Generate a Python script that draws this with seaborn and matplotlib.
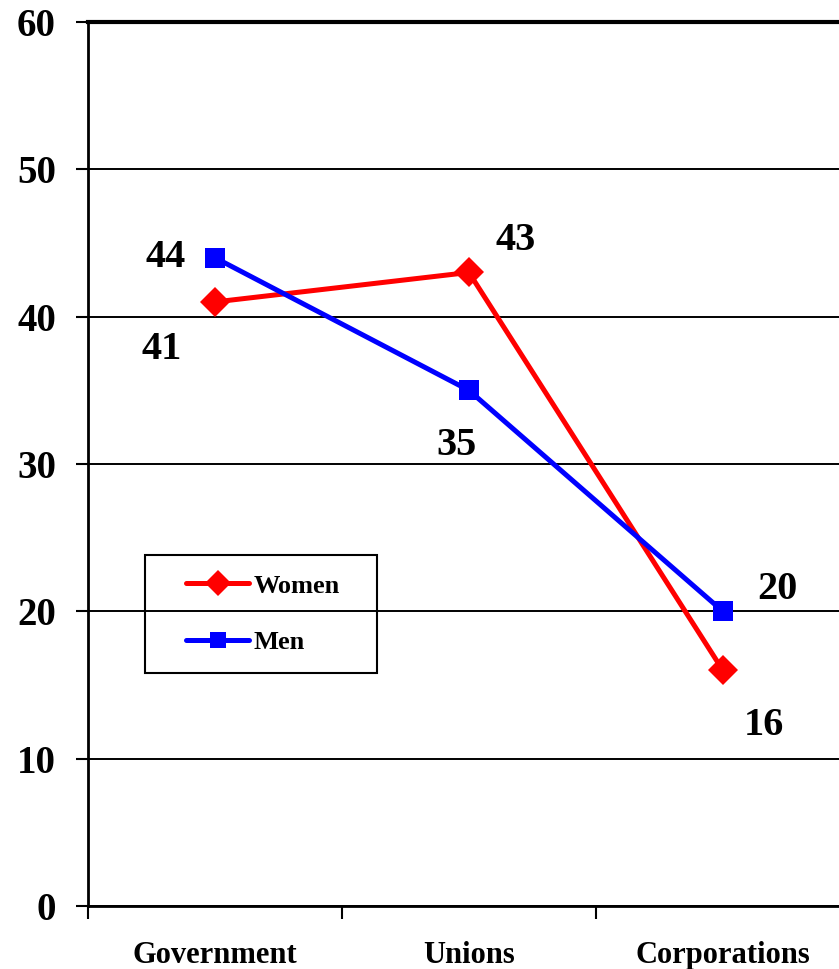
import pandas as pd
import seaborn as sns
import matplotlib.pyplot as plt
from matplotlib.ticker import FixedLocator
from matplotlib.patches import Rectangle

categories = ["Government", "Unions", "Corporations"]
women = [41, 43, 16]
men = [44, 35, 20]

# label offsets in pixels relative to each point
women_offsets = [(-53, -48), (47, 32), (41, -55)]
men_offsets = [(-49, 0), (-12, -55), (55, 22)]


def display_plot():
    df = pd.DataFrame({
        "Sector": categories * 2,
        "Value": women + men,
        "Group": ["Women"] * len(women) + ["Men"] * len(men),
    })

    sns.set_style("white")
    plt.rcParams["font.family"] = ["Liberation Serif", "DejaVu Serif"]
    plt.rcParams["font.weight"] = "bold"
    plt.rcParams["text.color"] = "black"
    plt.rcParams["xtick.color"] = "black"
    plt.rcParams["ytick.color"] = "black"

    fig = plt.figure(figsize=(8.39, 9.69), dpi=100)
    ax = fig.add_axes([0.1049, 0.065, 0.908, 0.9123])

    sns.lineplot(data=df, x="Sector", y="Value", hue="Group", style="Group",
                 palette={"Women": "#ff0000", "Men": "#0000ff"},
                 markers={"Women": "D", "Men": "s"}, dashes=False,
                 linewidth=3.6, markersize=14, markeredgewidth=0, ax=ax)
    for ln in ax.lines:
        if ln.get_marker() == "D":
            ln.set_markersize(15)

    ax.set_xlim(-0.5, 2.5)
    ax.set_ylim(0, 60)
    ax.set_yticks(range(0, 61, 10))
    ax.yaxis.grid(True, color="black", linewidth=1.4)
    ax.set_axisbelow(True)
    ax.set_xlabel("")
    ax.set_ylabel("")

    for side in ["left", "bottom"]:
        ax.spines[side].set_linewidth(2)
        ax.spines[side].set_color("black")
    ax.spines["top"].set_linewidth(3)
    ax.spines["top"].set_color("black")
    ax.spines["right"].set_visible(False)

    ax.tick_params(axis="y", which="major", length=9, width=1.5, direction="out",
                   left=True, labelsize=28, pad=14, color="black", labelcolor="black")
    ax.tick_params(axis="x", which="major", length=0, labelsize=22, pad=25,
                   labelcolor="black")
    ax.xaxis.set_minor_locator(FixedLocator([-0.5, 0.5, 1.5, 2.5]))
    ax.tick_params(axis="x", which="minor", length=9, width=1.5, direction="out",
                   bottom=True, color="black")
    for lbl in ax.get_xticklabels() + ax.get_yticklabels():
        lbl.set_fontweight("bold")
        lbl.set_family("Liberation Serif")

    for i, v in enumerate(women):
        ax.annotate(str(v), (i, v), xytext=women_offsets[i], textcoords="offset pixels",
                    ha="center", va="center", fontsize=29, fontweight="bold",
                    color="black")
    for i, v in enumerate(men):
        ax.annotate(str(v), (i, v), xytext=men_offsets[i], textcoords="offset pixels",
                    ha="center", va="center", fontsize=29, fontweight="bold",
                    color="black")

    leg = ax.legend(loc="center left", bbox_to_anchor=(186 / 839, 1 - 614 / 969),
                    bbox_transform=fig.transFigure, fontsize=19, frameon=False,
                    handlelength=2.4, borderpad=0, labelspacing=1.25,
                    borderaxespad=0, handletextpad=0.15, markerscale=0.85)
    for t in leg.get_texts():
        t.set_fontweight("bold")
        t.set_color("black")

    # legend frame, wider than the entries like the original
    fig.patches.append(Rectangle((145 / 839, 1 - 673 / 969), 232 / 839, 118 / 969,
                                 transform=fig.transFigure, fill=False,
                                 edgecolor="black", linewidth=1.5, zorder=5))

    plt.savefig("out.png", dpi=100)


if __name__ == '__main__':
    display_plot()
